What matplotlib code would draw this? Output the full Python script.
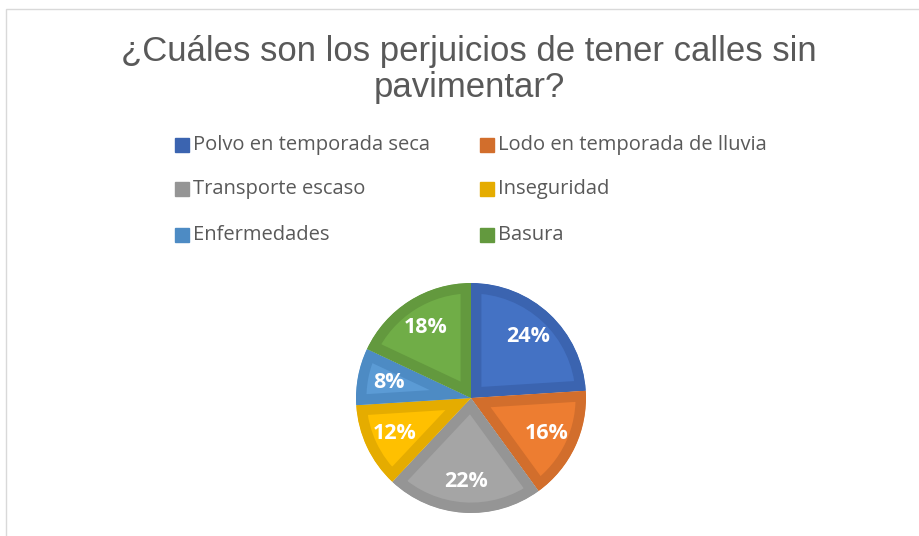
import matplotlib.pyplot as plt
from matplotlib.patches import Rectangle

categorias = ['Polvo en temporada seca', 'Lodo en temporada de lluvia', 'Transporte escaso',
              'Inseguridad', 'Enfermedades', 'Basura']
valores = [24, 16, 22, 12, 8, 18]
relleno = ['#4472C4', '#ED7D31', '#A5A5A5', '#FFC000', '#5B9BD5', '#70AD47']
borde = ['#3B64B0', '#D26E2C', '#959595', '#E5AC00', '#4D8BC4', '#63993E']

W, H = 919, 536
fig = plt.figure(figsize=(W / 100, H / 100), dpi=100)
fig.patches.append(Rectangle((6 / W, -0.1), 1.2, (H - 9) / H + 0.1, transform=fig.transFigure,
                             fill=False, edgecolor='#D9D9D9', linewidth=1))

fig.text(469 / W, 1 - 52 / H, '¿Cuáles son los perjuicios de tener calles sin', ha='center', va='center',
         fontsize=25, color='#595959', family='Liberation Sans')
fig.text(469 / W, 1 - 88 / H, 'pavimentar?', ha='center', va='center',
         fontsize=25, color='#595959', family='Liberation Sans')

cx, cy, r = 471, 398, 115
ax = fig.add_axes([(cx - r) / W, (H - cy - r) / H, 2 * r / W, 2 * r / H])
wedges, textos = ax.pie(valores, colors=relleno, startangle=90, counterclock=False,
                        radius=1, labels=[f'{v}%' for v in valores], labeldistance=0.73,
                        wedgeprops=dict(linewidth=0))
# borde interior mas oscuro: trazo grueso recortado a cada sector
for w, c in zip(wedges, borde):
    w.set_edgecolor(c)
    w.set_linewidth(15)
    w.set_clip_on(True)
    w.set_clip_path(w.get_path(), w.get_transform())
for t in textos:
    t.set_color('white')
    t.set_fontsize(15.5)
    t.set_fontweight('bold')
    t.set_family('Open Sans')
    t.set_ha('center')
    t.set_va('center')
ax.set_xlim(-1, 1)
ax.set_ylim(-1, 1)
ax.set_aspect('equal')
ax.axis('off')

# leyenda en dos columnas
filas = [145, 189, 235]
cols = [175, 480]
for i, (cat, c) in enumerate(zip(categorias, borde)):
    x = cols[i % 2]
    y = filas[i // 2]
    fig.patches.append(Rectangle((x / W, (H - y - 7) / H), 14 / W, 14 / H,
                                 transform=fig.transFigure, color=c))
    fig.text((x + 18) / W, 1 - y / H, cat, ha='left', va='center', fontsize=14.5,
             color='#595959', family='Open Sans')

fig.savefig('out.png', dpi=100)
